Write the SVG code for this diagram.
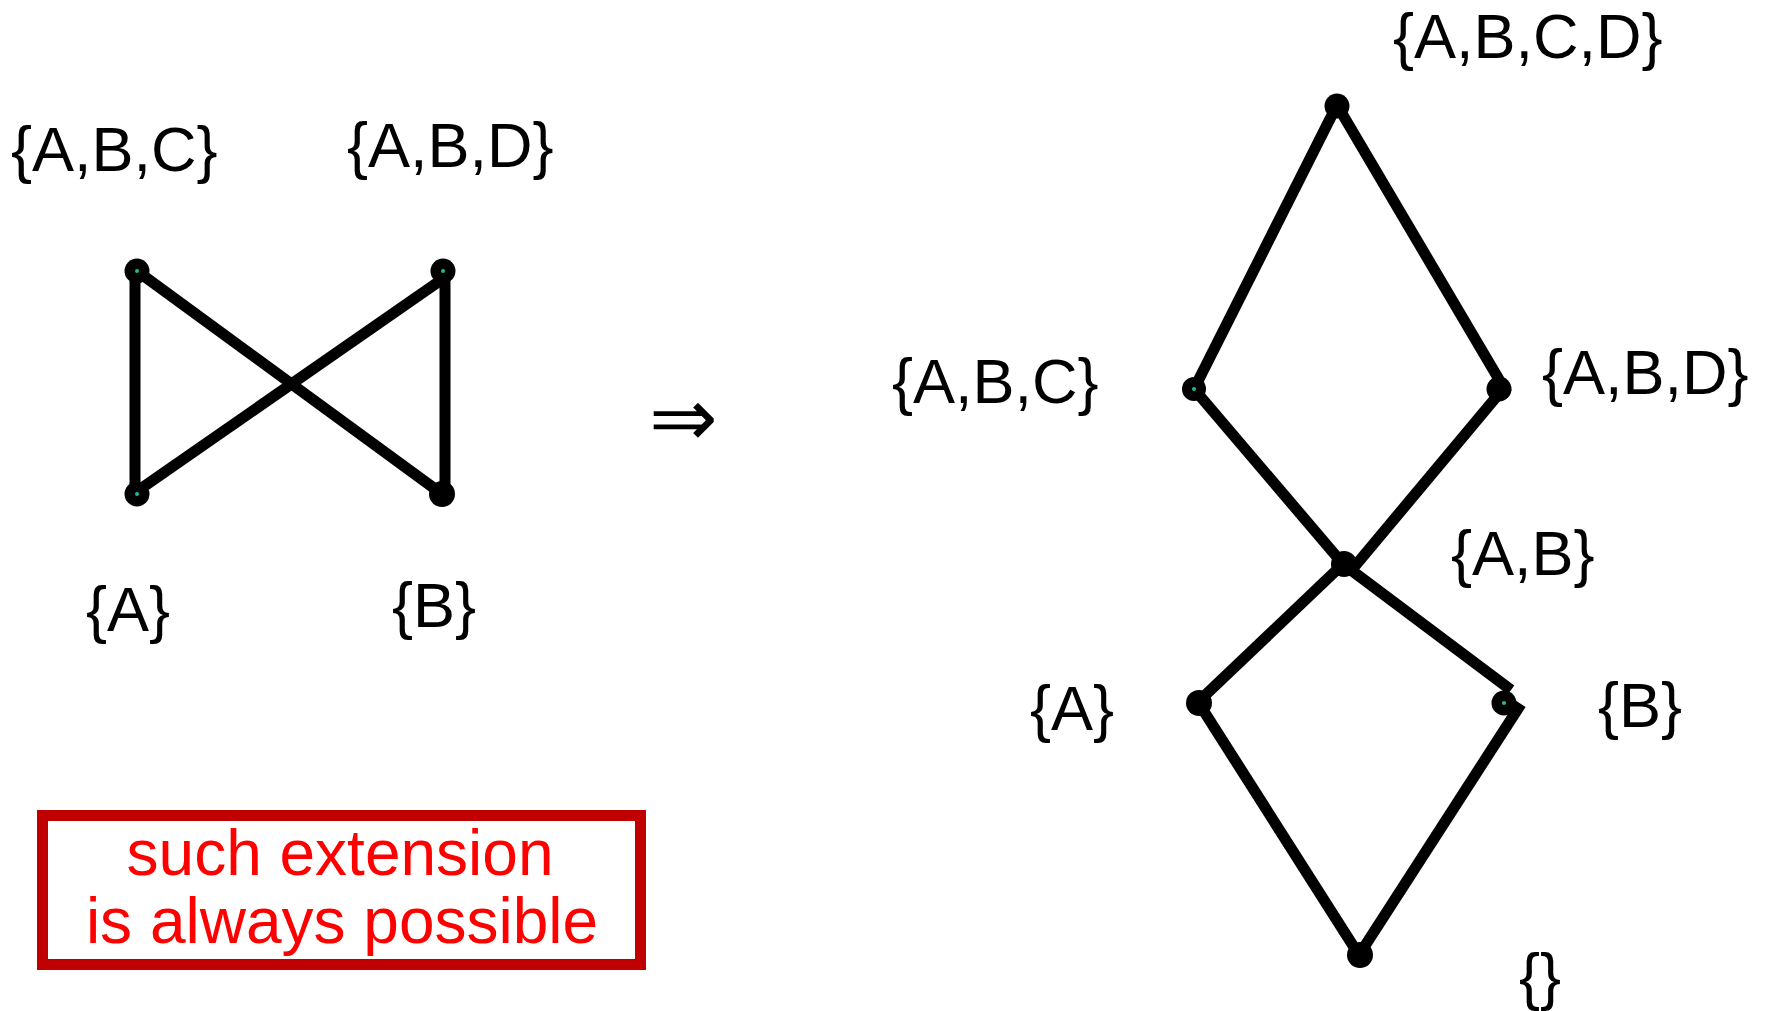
<svg xmlns="http://www.w3.org/2000/svg" width="1767" height="1011" viewBox="0 0 1767 1011">
  <style>
    .lbl { font-family: "Liberation Sans", Arial, sans-serif; font-size: 63px; fill: #000000; }
    .note { font-family: "Liberation Sans", Arial, sans-serif; font-size: 64px; fill: #FF0000; text-anchor: middle; }
    .edge { stroke: #000000; stroke-width: 11; fill: none; stroke-linecap: butt; }
    .dot { fill: #000000; }
    .ctr { fill: #1ABC9C; }
  </style>
  <rect x="0" y="0" width="1767" height="1011" fill="#FFFFFF"/>

  <g id="connectors">
    <!-- left graph -->
    <line class="edge" x1="135" y1="272" x2="135" y2="494"/>
    <line class="edge" x1="137" y1="271" x2="442" y2="494"/>
    <line class="edge" x1="444" y1="278" x2="136" y2="492"/>
    <line class="edge" x1="445" y1="271" x2="445" y2="494"/>
    <!-- right graph -->
    <line class="edge" x1="1337" y1="105" x2="1194" y2="389"/>
    <line class="edge" x1="1337" y1="105" x2="1507" y2="393"/>
    <line class="edge" x1="1194" y1="389" x2="1343" y2="564"/>
    <line class="edge" x1="1503" y1="389" x2="1350" y2="572"/>
    <line class="edge" x1="1343" y1="564" x2="1198" y2="702"/>
    <line class="edge" x1="1343" y1="564" x2="1511" y2="690"/>
    <line class="edge" x1="1198" y1="702" x2="1359" y2="955"/>
    <line class="edge" x1="1521" y1="704" x2="1359" y2="955"/>
  </g>

  <!-- left graph nodes -->
  <g id="L-ABC">
    <circle class="dot" cx="137" cy="271" r="12.5"/>
    <circle class="ctr" cx="137" cy="271" r="2"/>
    <text class="lbl" x="11" y="171">{A,B,C}</text>
  </g>
  <g id="L-ABD">
    <circle class="dot" cx="443" cy="271" r="12.5"/>
    <circle class="ctr" cx="443" cy="271" r="2"/>
    <text class="lbl" x="347" y="167">{A,B,D}</text>
  </g>
  <g id="L-A">
    <circle class="dot" cx="137" cy="494" r="12.5"/>
    <circle class="ctr" cx="137" cy="494" r="2"/>
    <text class="lbl" x="86" y="631">{A}</text>
  </g>
  <g id="L-B">
    <circle class="dot" cx="442" cy="494" r="13"/>
    <text class="lbl" x="392" y="627">{B}</text>
  </g>

  <g id="implies">
    <text x="683" y="446" style="font-family: 'DejaVu Sans', sans-serif; font-size: 82px; font-weight: 200; text-anchor: middle;">⇒</text>
  </g>

  <!-- right graph nodes -->
  <g id="R-ABCD">
    <circle class="dot" cx="1337" cy="106" r="12.5"/>
    <text class="lbl" x="1393" y="58">{A,B,C,D}</text>
  </g>
  <g id="R-ABC">
    <circle class="dot" cx="1194" cy="389" r="12"/>
    <circle class="ctr" cx="1194" cy="389" r="2"/>
    <text class="lbl" x="892" y="403">{A,B,C}</text>
  </g>
  <g id="R-ABD">
    <circle class="dot" cx="1499" cy="389" r="12.5"/>
    <text class="lbl" x="1542" y="394">{A,B,D}</text>
  </g>
  <g id="R-AB">
    <circle class="dot" cx="1344" cy="564" r="13"/>
    <text class="lbl" x="1451" y="575">{A,B}</text>
  </g>
  <g id="R-A">
    <circle class="dot" cx="1199" cy="703" r="13"/>
    <text class="lbl" x="1030" y="730">{A}</text>
  </g>
  <g id="R-B">
    <circle class="dot" cx="1504" cy="703" r="12.5"/>
    <circle class="ctr" cx="1504" cy="703" r="2"/>
    <text class="lbl" x="1598" y="727">{B}</text>
  </g>
  <g id="R-empty">
    <circle class="dot" cx="1360" cy="955" r="13"/>
    <text class="lbl" x="1519" y="998">{}</text>
  </g>

  <g id="note">
    <rect x="42.5" y="815.5" width="598" height="149" fill="none" stroke="#C00000" stroke-width="11"/>
    <text class="note" x="340" y="875">such extension</text>
    <text class="note" x="342" y="943">is always possible</text>
  </g>
</svg>
